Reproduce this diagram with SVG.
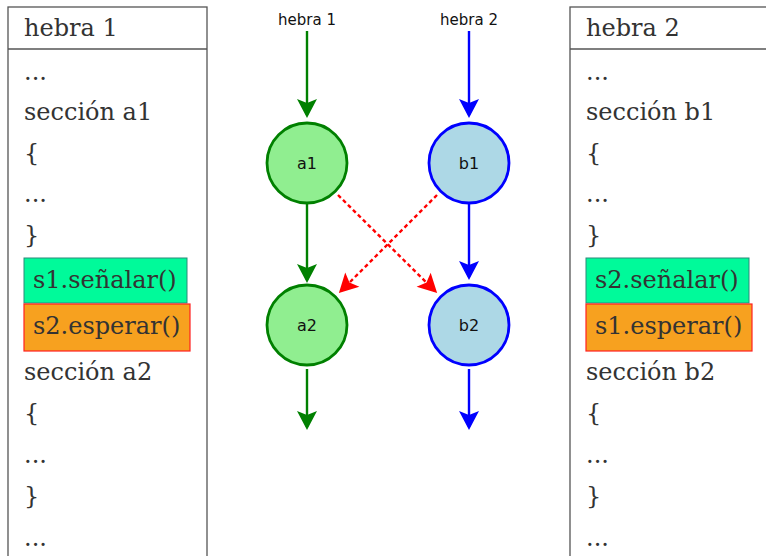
<svg xmlns="http://www.w3.org/2000/svg" width="766" height="556" viewBox="0 0 766 556">
<style>
.panel{fill:#fff;stroke:#555;stroke-width:1.3}
.code{font-family:"DejaVu Serif","Liberation Serif",serif;font-size:24px;fill:#333}
.lbl{font-family:"DejaVu Sans","Noto Sans",sans-serif;font-size:15px;fill:#111}
.nlbl{font-family:"DejaVu Sans","Noto Sans",sans-serif;font-size:16px;fill:#111;text-anchor:middle}
.sig{fill:#00FA9A;stroke:#2a8a7a;stroke-width:1}
.wait{fill:#F7A11F;stroke:#FF2020;stroke-width:1.2}
.g{stroke:#008000;stroke-width:2.4;fill:none}
.b{stroke:#0000FF;stroke-width:2.4;fill:none}
.r{stroke:#FF0000;stroke-width:2.4;fill:none;stroke-dasharray:4 3}
</style>
<defs>
<marker id="ag" markerUnits="userSpaceOnUse" markerWidth="24" markerHeight="24" viewBox="-20 -12 24 24" refX="0" refY="0" orient="auto"><path d="M3,0 L-16,-10 L-12,0 L-16,10 Z" fill="#008000"/></marker>
<marker id="ab" markerUnits="userSpaceOnUse" markerWidth="24" markerHeight="24" viewBox="-20 -12 24 24" refX="0" refY="0" orient="auto"><path d="M3,0 L-16,-10 L-12,0 L-16,10 Z" fill="#0000FF"/></marker>
<marker id="ar" markerUnits="userSpaceOnUse" markerWidth="24" markerHeight="24" viewBox="-20 -12 24 24" refX="0" refY="0" orient="auto"><path d="M3,0 L-16,-10 L-12,0 L-16,10 Z" fill="#FF0000"/></marker>
</defs>
<rect width="766" height="556" fill="#fff"/>

<g id="hebra1-panel">
<rect class="panel" x="8" y="7" width="199" height="570"/>
<line x1="8" y1="49" x2="207" y2="49" stroke="#555" stroke-width="1.3"/>
<text class="code" x="24" y="36">hebra 1</text>
<text class="code" x="24" y="80">...</text>
<text class="code" x="24" y="120">sección a1</text>
<text class="code" x="24" y="161">{</text>
<text class="code" x="24" y="202">...</text>
<text class="code" x="24" y="243">}</text>
<rect class="sig" x="24" y="258" width="163" height="45"/>
<text class="code" x="33" y="288">s1.señalar()</text>
<rect class="wait" x="24" y="304" width="166" height="47"/>
<text class="code" x="33" y="334">s2.esperar()</text>
<text class="code" x="24" y="380">sección a2</text>
<text class="code" x="24" y="421">{</text>
<text class="code" x="24" y="463">...</text>
<text class="code" x="24" y="504">}</text>
<text class="code" x="24" y="546">...</text>
</g>

<g id="hebra2-panel">
<rect class="panel" x="570" y="7" width="200" height="570"/>
<line x1="570" y1="49" x2="770" y2="49" stroke="#555" stroke-width="1.3"/>
<text class="code" x="586" y="36">hebra 2</text>
<text class="code" x="586" y="80">...</text>
<text class="code" x="586" y="120">sección b1</text>
<text class="code" x="586" y="161">{</text>
<text class="code" x="586" y="202">...</text>
<text class="code" x="586" y="243">}</text>
<rect class="sig" x="586" y="258" width="163" height="45"/>
<text class="code" x="595" y="288">s2.señalar()</text>
<rect class="wait" x="586" y="304" width="166" height="47"/>
<text class="code" x="595" y="334">s1.esperar()</text>
<text class="code" x="586" y="380">sección b2</text>
<text class="code" x="586" y="421">{</text>
<text class="code" x="586" y="463">...</text>
<text class="code" x="586" y="504">}</text>
<text class="code" x="586" y="546">...</text>
</g>

<g id="connectors">
<path class="g" d="M307,31 L307,115" marker-end="url(#ag)"/>
<path class="g" d="M307,204 L307,280" marker-end="url(#ag)"/>
<path class="g" d="M307,369 L307,427" marker-end="url(#ag)"/>
<path class="b" d="M469,31 L469,115" marker-end="url(#ab)"/>
<path class="b" d="M469,204 L469,277" marker-end="url(#ab)"/>
<path class="b" d="M469,369 L469,427" marker-end="url(#ab)"/>
<path class="r" d="M338,195 L435,291" marker-end="url(#ar)"/>
<path class="r" d="M437,195 L341,291" marker-end="url(#ar)"/>
</g>

<g id="label-hebra1"><text class="lbl" x="307" y="25" text-anchor="middle">hebra 1</text></g>
<g id="label-hebra2"><text class="lbl" x="469" y="25" text-anchor="middle">hebra 2</text></g>

<g id="node-a1"><circle cx="307" cy="163" r="40" fill="#90EE90" stroke="#008000" stroke-width="2.8"/><text class="nlbl" x="307" y="169">a1</text></g>
<g id="node-b1"><circle cx="469" cy="163" r="40" fill="#ADD8E6" stroke="#0000FF" stroke-width="2.8"/><text class="nlbl" x="469" y="169">b1</text></g>
<g id="node-a2"><circle cx="307" cy="325" r="40" fill="#90EE90" stroke="#008000" stroke-width="2.8"/><text class="nlbl" x="307" y="331">a2</text></g>
<g id="node-b2"><circle cx="469" cy="325" r="40" fill="#ADD8E6" stroke="#0000FF" stroke-width="2.8"/><text class="nlbl" x="469" y="331">b2</text></g>
</svg>
